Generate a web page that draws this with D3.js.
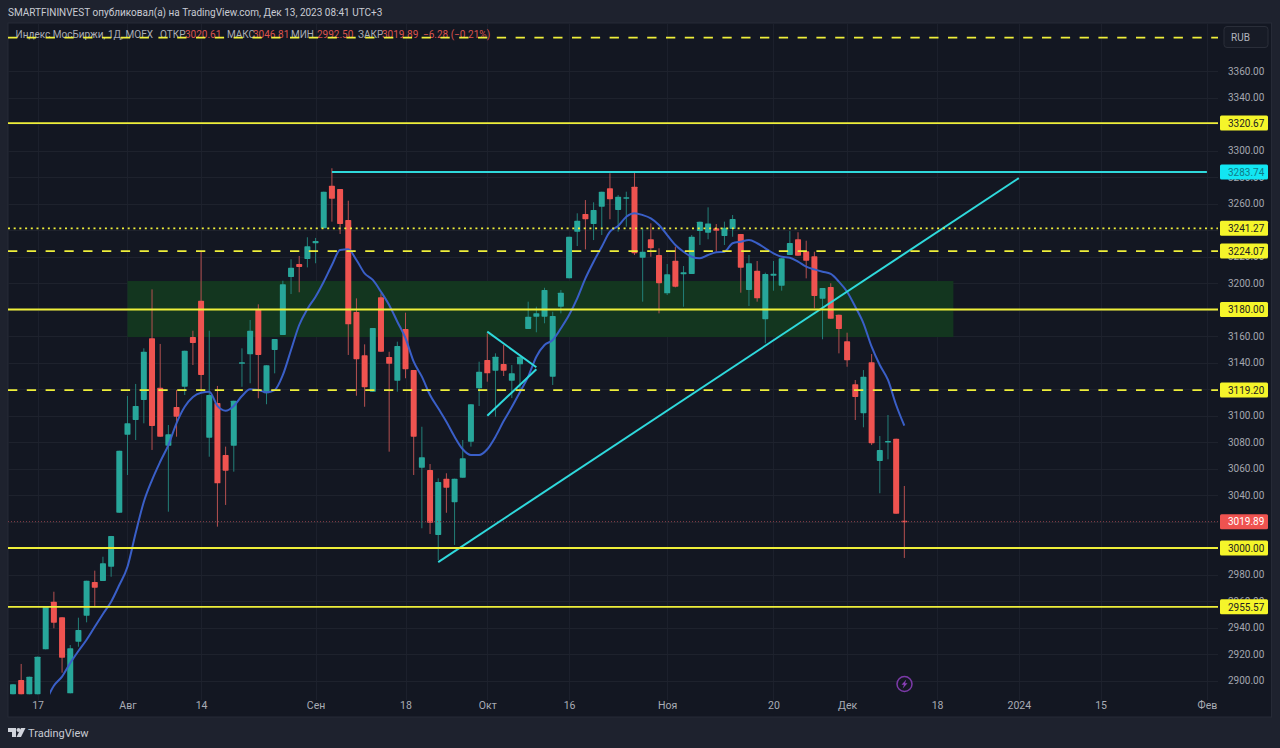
<!DOCTYPE html>
<html><head><meta charset="utf-8">
<style>html,body{margin:0;padding:0;background:#1e222d;overflow:hidden}svg{display:block}</style>
<script src="https://cdnjs.cloudflare.com/ajax/libs/d3/7.8.5/d3.min.js"></script>
</head><body><svg id="c" width="1280" height="748"></svg>
<script>
const opens=[2889.6,2900.4,2889.6,2889.6,2923.5,2959.5,2947.7,2890.3,2929.3,2948.9,2974.3,2975.1,2985.9,3026.6,3085.5,3096.6,3111.7,3158.3,3121,3077.2,3106.4,3121.7,3159.2,3186.6,3083.2,3109.4,3070.2,3077.2,3139.6,3146.2,3180.4,3116.8,3149.4,3160.8,3204.5,3214.3,3218.1,3230,3241.3,3273.4,3270.9,3247.5,3178.1,3145.4,3118,3189.2,3144.1,3126.3,3165.3,3134.3,3060.6,3058.9,3009.8,3052.3,3034.5,3053.1,3080.2,3120.5,3141.9,3133.8,3138.9,3126.3,3138.6,3165.3,3174.6,3174.6,3129.3,3182.1,3203.5,3238.7,3252.1,3244.5,3257.6,3271.5,3255.1,3264.2,3272.7,3219.1,3233,3221.1,3192.2,3216.8,3206.6,3206.8,3239.2,3238,3241.3,3235.5,3240.7,3237,3194.7,3209.3,3172.6,3205.5,3198,3221.1,3233,3223.9,3220.1,3188.1,3197,3176.1,3156,3123.5,3101.7,3140.1,3065.7,3080.2,3082.5,3020.61];
const closes=[2897.1,2889.6,2902.9,2918,2955.7,2943.6,2917.2,2924.3,2938.1,2975.3,2970,2988.5,3009.1,3073.4,3094.1,3107.2,3148.1,3092.1,3084,3085.8,3099.1,3148.9,3154.7,3130.6,3115.5,3048.8,3058.3,3111.2,3140.1,3164,3145.7,3137.9,3157.7,3199,3211.5,3212.1,3227.7,3231.7,3268.9,3263.6,3244.5,3168.8,3142.4,3121.3,3166,3148.1,3139.1,3152.4,3134.9,3084,3068.5,3019.1,3049.8,3045.5,3052.3,3067.7,3108.5,3133,3131.8,3144.4,3133.8,3131.8,3144.4,3174.6,3177.1,3194.7,3175.1,3192.7,3234.9,3247,3248.1,3255.1,3268.9,3263.2,3265.1,3264.7,3222.4,3223.6,3226.2,3199.8,3206.6,3197.2,3208.1,3234.9,3246.3,3245,3239.5,3241.7,3248.3,3211.5,3214.9,3188.4,3206.8,3207,3218.6,3230.2,3220.6,3216.8,3190.2,3196.2,3173.1,3165.3,3141.7,3114,3129.3,3079,3074,3080.8,3025.9,3019.89];
const highs=[2897.1,2912.5,2902.9,2918,2955.7,2967,2947.7,2926.8,2947.4,2975.3,2982.9,2993.4,3009.1,3073.4,3114.7,3123.8,3150.7,3195.2,3154,3092.8,3119.2,3148.9,3164,3223.4,3164,3122.3,3076.5,3111.2,3150.7,3172.1,3183.9,3137.9,3157.7,3201.7,3217.9,3220.4,3234.5,3234,3268.9,3286.6,3270.9,3262.1,3188.4,3153.7,3166,3192.2,3148.1,3155.7,3177.6,3134.3,3091.5,3063.4,3052.6,3056.4,3052.3,3081.5,3108.5,3140.6,3162,3146.9,3153.2,3138.1,3144.4,3185.9,3182.1,3196.4,3178.3,3194.7,3234.9,3252.6,3262.6,3260.9,3268.9,3282.8,3266.4,3268.9,3284,3241.3,3245,3226.2,3214.3,3227.4,3212.8,3236.2,3246.3,3257.1,3244.5,3246.3,3251.3,3237,3221.1,3216.6,3207.8,3216.6,3218.6,3239.2,3238.3,3231.9,3223.6,3196.2,3199.8,3176.1,3162.5,3126.8,3134.3,3146.4,3084.5,3100.4,3082.5,3046.81];
const lows=[2889.6,2889.6,2889.6,2889.6,2923.5,2939.4,2905.9,2890.3,2925.5,2943.9,2955.7,2975.1,2978.3,3026.6,3055.1,3081.5,3094.1,3074,3084,3027.4,3084,3115.5,3138.1,3118,3068.9,3016.1,3032.5,3057.6,3121.7,3124.3,3113,3108.5,3131.8,3160.8,3191.7,3193,3211.8,3214.9,3241.3,3246.3,3237,3145.7,3114.9,3106.6,3118,3148.1,3072.7,3118,3128.1,3055.1,3014.9,3010.6,2990.9,3026.6,3002.3,3053.1,3076.5,3107.2,3125.5,3099.1,3129.8,3113.2,3119.2,3165.3,3162.8,3169.6,3123,3177.1,3203.5,3227.9,3225.4,3232.4,3236.2,3248.1,3238.7,3242.5,3221.1,3185.9,3219.8,3177.1,3190.9,3196.7,3182.1,3206.8,3228.7,3233,3223.6,3228.7,3234.9,3192.7,3182.6,3185.9,3154.5,3194.2,3194.2,3221.1,3220.6,3203.5,3180.9,3157.5,3173.1,3146.9,3136.8,3096.6,3091.1,3077.7,3041.3,3066.9,3025.9,2992.5];
const maStartIndex=4;
const maValues=[2884,2896,2902.9,2913.2,2922.3,2930.8,2940.6,2950.2,2959.5,2972.1,2985.9,3011.3,3034.9,3051.3,3065.1,3077.7,3094.3,3106.6,3114,3117.2,3118,3107.2,3103.6,3107.2,3114.7,3119.8,3119.2,3117.5,3119.2,3130.6,3149.4,3168.3,3180.4,3189.7,3201,3213.6,3224.9,3225.4,3217.4,3207.3,3202.3,3193.4,3183.4,3170.8,3158.3,3140.6,3129.3,3115.5,3105.4,3095.3,3084,3074.5,3070.2,3070.2,3074.5,3084,3095.8,3106.4,3117.7,3129.3,3144.4,3153.2,3157,3165.8,3175.8,3188.4,3203.5,3216.1,3227.4,3238.7,3243,3250,3252.6,3251.3,3248.8,3243.8,3236.2,3228.7,3223.6,3219.8,3218.6,3221.1,3223.2,3223.6,3230,3231.2,3232.4,3230,3226.2,3222.4,3219.8,3219.1,3216.1,3212.3,3210.3,3208.5,3206.8,3201,3193.4,3182.1,3169.6,3151.9,3138.1,3126.8,3107.9,3092.3];
const priceTicks=d3.range(2900,3361,20);
const timeTickIndex=[3,14,23,37,48,58,68,80,93,102,113,123,133,146];
const timeTickLabels=["17","Авг","14","Сен","18","Окт","16","Ноя","20","Дек","18","2024","15","Фев"];
const levelValues=[3385.2,3320.67,3283.74,3241.27,3224.07,3180,3119.2,3000,2955.57];
const levelStyles=["dash","solid","cyan","dot","dash","solid","dash","solid","solid"];
const levelLabels=[null,"3320.67","3283.74","3241.27","3224.07","3180.00","3119.20","3000.00","2955.57"];
const zoneIndex=[14,115];
const zonePrice=[3201.5,3159.2];
const trendSegments=[[39,3283.74,146,3283.74],[52,2989.4,123,3279.2],[58,3163.3,64,3136.4],[58,3099.8,64,3134.9]];
const lastPrice=3019.89;
const headerText="SMARTFININVEST опубликовал(а) на TradingView.com, Дек 13, 2023 08:41 UTC+3";
const legendTexts=["Индекс МосБиржи, 1Д, MOEX","ОТКР","3020.61","МАКС","3046.81","МИН","2992.50","ЗАКР","3019.89","−6.28 (−0.21%)"];
const legendIsValue=[false,false,true,false,true,false,true,false,true,true];

const svg=d3.select("#c");
const FONT="Roboto, sans-serif";
const W=1280,H=748,L=8,R=1271.5,T=23,B=717,PLOT_R=1218,PLOT_B=695;
const x=d3.scaleLinear().domain([0,146]).range([13,1206.9]);
const y=d3.scaleLinear().domain([3000,3360]).range([548,71]);
const UP="#27a69a",DOWN="#ef5350",UPW="#237f78",DOWNW="#b55050";
const legendX=[15.5,160,185,227,253,291,317,358,382,423];

svg.append("rect").attr("width",W).attr("height",H).attr("fill","#1e222e");
svg.append("rect").attr("x",L).attr("y",T).attr("width",R-L).attr("height",B-T).attr("fill","#131722").attr("stroke","#262a36");

svg.append("defs").append("clipPath").attr("id","maClip").append("rect")
  .attr("x",50).attr("y",T).attr("width",PLOT_R-50).attr("height",PLOT_B-T);

// grid
svg.append("g").selectAll("line").data(timeTickIndex).join("line")
 .attr("x1",d=>Math.round(x(d))+.5).attr("x2",d=>Math.round(x(d))+.5)
 .attr("y1",T).attr("y2",PLOT_B+5).attr("stroke","#1c202c");
svg.append("g").selectAll("line").data(priceTicks).join("line")
 .attr("x1",L).attr("x2",PLOT_R).attr("y1",d=>Math.round(y(d))+.5).attr("y2",d=>Math.round(y(d))+.5)
 .attr("stroke","#1e222d");

// zone
svg.append("rect").attr("x",x(zoneIndex[0])).attr("width",x(zoneIndex[1])-x(zoneIndex[0]))
 .attr("y",y(zonePrice[0])).attr("height",y(zonePrice[1])-y(zonePrice[0])).attr("fill","#13361f");

// candles
const idx=d3.range(opens.length);
const bw=6;
const cg=svg.append("g");
cg.selectAll("line").data(idx).join("line")
 .attr("x1",i=>x(i)).attr("x2",i=>x(i)).attr("y1",i=>y(highs[i])).attr("y2",i=>y(lows[i]))
 .attr("stroke",i=>closes[i]>=opens[i]?UPW:DOWNW).attr("stroke-width",1);
cg.selectAll("rect").data(idx).join("rect")
 .attr("x",i=>x(i)-bw/2).attr("width",bw)
 .attr("y",i=>y(Math.max(opens[i],closes[i])))
 .attr("height",i=>Math.max(1.5,Math.abs(y(opens[i])-y(closes[i]))))
 .attr("rx",.7)
 .attr("fill",i=>closes[i]>=opens[i]?UP:DOWN);

// moving average
const maLine=d3.line().x((d,i)=>x(i+maStartIndex)).y(d=>y(d)).curve(d3.curveMonotoneX);
svg.append("path").attr("d",maLine(maValues)).attr("fill","none").attr("stroke","#3a5fc8").attr("stroke-width",2).attr("clip-path","url(#maClip)");

// last price
svg.append("line").attr("x1",L).attr("x2",PLOT_R).attr("y1",y(lastPrice)).attr("y2",y(lastPrice))
 .attr("stroke","#8a3f4a").attr("stroke-width",1).attr("stroke-dasharray","1 2");

// levels
const lv=svg.append("g");
const dashOf={solid:null,cyan:null,dash:"9.3 9.5",dot:"2 3.7"};
levelValues.forEach((v,k)=>{
  const st=levelStyles[k];
  if(st==="cyan")return;
  lv.append("line").attr("x1",L).attr("x2",PLOT_R).attr("y1",y(v)).attr("y2",y(v))
    .attr("stroke","#efef3a").attr("stroke-width",1.8).attr("stroke-dasharray",dashOf[st]);
});

// trend segments
svg.append("g").selectAll("line").data(trendSegments).join("line")
 .attr("x1",d=>x(d[0])).attr("y1",d=>y(d[1])).attr("x2",d=>Math.min(PLOT_R,x(d[2]))).attr("y2",d=>y(d[3]))
 .attr("stroke","#2fd9dc").attr("stroke-width",2);

// price axis
const ax=svg.append("g").attr("transform","translate(1228,0)")
 .call(d3.axisRight(y).tickValues(priceTicks).tickSize(0).tickPadding(0).tickFormat(d3.format(".2f")));
ax.select(".domain").remove();
ax.selectAll("text").attr("fill","#a3a6af").attr("font-family",FONT).attr("font-size",10);

// time axis
const tx=svg.append("g").attr("transform","translate(0,699.5)")
 .call(d3.axisBottom(x).tickValues(timeTickIndex).tickSize(0).tickPadding(2).tickFormat((d,i)=>timeTickLabels[i]));
tx.select(".domain").remove();
tx.selectAll("text").attr("fill","#a9acb5").attr("font-family",FONT).attr("font-size",10.5);

// level labels
const lab=svg.append("g");
levelValues.forEach((v,k)=>{
  if(!levelLabels[k])return;
  const cy=y(v);
  const isC=levelStyles[k]==="cyan";
  lab.append("rect").attr("x",1220).attr("y",cy-7.5).attr("width",48).attr("height",15).attr("rx",1.5)
    .attr("fill",isC?"#12e6f2":"#f5f52a");
  lab.append("text").attr("x",1228).attr("y",cy+3.7).attr("font-family",FONT).attr("font-size",10)
    .attr("fill",isC?"#107a88":"#222").text(levelLabels[k]);
});
lab.append("rect").attr("x",1220).attr("y",y(lastPrice)-7.5).attr("width",48).attr("height",15).attr("rx",1.5).attr("fill",DOWN);
lab.append("text").attr("x",1228).attr("y",y(lastPrice)+3.7).attr("font-family",FONT).attr("font-size",10).attr("fill","#fff").text(d3.format(".2f")(lastPrice));

// RUB box
svg.append("rect").attr("x",1224).attr("y",26.5).attr("width",44).attr("height",21).attr("rx",3)
 .attr("fill","#171b26").attr("stroke","#2a2e39");
svg.append("text").attr("x",1231).attr("y",41).attr("font-family",FONT).attr("font-size",10).attr("fill","#b2b5be").text("RUB");

// header + legend
svg.append("text").attr("x",8).attr("y",16).attr("font-family",FONT).attr("font-size",10).attr("fill","#c8cbd3").text(headerText);
svg.append("g").selectAll("text").data(legendTexts).join("text")
 .attr("x",(d,i)=>legendX[i]).attr("y",38).attr("font-family",FONT).attr("font-size",10)
 .attr("fill",(d,i)=>legendIsValue[i]?"#d9534f":"#a9acb5").text(d=>d);
lv.raise();

// lightning marker
const icon=svg.append("g").attr("transform","translate(904.5,684)");
icon.append("circle").attr("r",7.5).attr("fill","#131722").attr("stroke","#7c3aa8").attr("stroke-width",1.5);
icon.append("path").attr("d","M1.8,-4.5 L-3,0.8 L-0.5,0.8 L-1.8,4.5 L3,-0.8 L0.5,-0.8 Z").attr("fill","#8a3fb8");

// logo
const logo=svg.append("g").attr("transform","translate(8,728)").attr("fill","#d1d4dc");
logo.append("path").attr("d","M0,0 H8 V9 H4 V4 H0 Z");
logo.append("circle").attr("cx",10.5).attr("cy",2).attr("r",2);
logo.append("path").attr("d","M13,0 H17.5 L13,9 H8.5 Z");
svg.append("text").attr("x",28).attr("y",737).attr("font-family",FONT).attr("font-size",11).attr("fill","#c8cbd3").text("TradingView");
</script></body></html>
